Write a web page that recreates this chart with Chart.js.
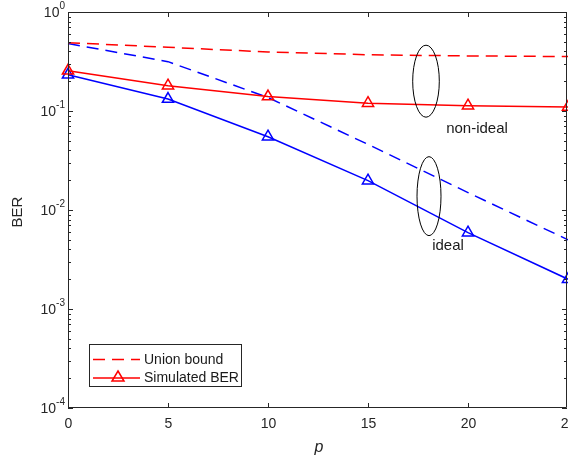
<!DOCTYPE html>
<html>
<head>
<meta charset="utf-8">
<script src="https://cdn.jsdelivr.net/npm/chart.js@4.4.1/dist/chart.umd.min.js"></script>
<style>
  html, body { margin: 0; padding: 0; background: #fff; }
  #wrap { width: 568px; height: 462px; }
</style>
</head>
<body>
<div id="wrap"><canvas id="ber"></canvas></div>
<script>
// values
const pValues = [0, 5, 10, 15, 20, 25];
const unionNonIdeal = [0.49, 0.44, 0.395, 0.37, 0.36, 0.355];
const simNonIdeal = [0.255, 0.18, 0.14, 0.12, 0.113, 0.11];
const unionIdeal = [0.48, 0.315, 0.137, 0.046, 0.015, 0.005];
const simIdeal = [0.232, 0.132, 0.055, 0.0198, 0.0059, 0.002];

const xTicks = [0, 5, 10, 15, 20, 25];
const yDecades = [0, -1, -2, -3, -4];

const FONT = '"Liberation Sans", Arial, sans-serif';
const AXIS = '#262626';

const toXY = (ys) => ys.map((y, i) => ({ x: pValues[i], y: y }));

// ellipse groupings + their labels (data coords, pixel radii)
const groups = [
  { cx: 17.9, cy: 0.2, rx: 13.3, ry: 36, label: 'non-ideal', lx: 20.45, ly: 0.066 },
  { cx: 18.05, cy: 0.0138, rx: 12, ry: 39.5, label: 'ideal', lx: 19.0, ly: 0.0043 },
];

const axesPlugin = {
  id: 'matlabAxes',
  afterDatasetsDraw(chart) {
    const { ctx, chartArea: a, scales } = chart;
    const xs = scales.x, ys = scales.y;
    ctx.save();

    // ellipses and labels
    ctx.strokeStyle = '#000';
    ctx.lineWidth = 1;
    ctx.fillStyle = '#1a1a1a';
    ctx.font = '15px ' + FONT;
    ctx.textAlign = 'center';
    ctx.textBaseline = 'middle';
    groups.forEach(g => {
      ctx.beginPath();
      ctx.ellipse(xs.getPixelForValue(g.cx), ys.getPixelForValue(g.cy), g.rx, g.ry, 0, 0, Math.PI * 2);
      ctx.stroke();
      ctx.fillText(g.label, xs.getPixelForValue(g.lx), ys.getPixelForValue(g.ly));
    });

    // box
    ctx.strokeStyle = AXIS;
    ctx.lineWidth = 1;
    ctx.beginPath();
    ctx.moveTo(a.left + 0.5, a.top + 0.5);
    ctx.lineTo(a.right - 1.5, a.top + 0.5);
    ctx.lineTo(a.right - 1.5, a.bottom - 0.5);
    ctx.lineTo(a.left + 0.5, a.bottom - 0.5);
    ctx.closePath();
    ctx.stroke();

    // x ticks (inward, bottom and top) + labels
    ctx.font = '14px ' + FONT;
    ctx.textAlign = 'center';
    ctx.textBaseline = 'middle';
    ctx.fillStyle = AXIS;
    xTicks.forEach(t => {
      const px = Math.round(xs.getPixelForValue(t)) + 0.5;
      ctx.beginPath();
      ctx.moveTo(px, a.bottom); ctx.lineTo(px, a.bottom - 5);
      ctx.moveTo(px, a.top); ctx.lineTo(px, a.top + 5);
      ctx.stroke();
      ctx.fillText(String(t), px, a.bottom + 16);
    });

    // y ticks, log minors
    yDecades.forEach(d => {
      const py = Math.round(ys.getPixelForValue(Math.pow(10, d))) + 0.5;
      ctx.beginPath();
      ctx.moveTo(a.left, py); ctx.lineTo(a.left + 5, py);
      ctx.moveTo(a.right - 1, py); ctx.lineTo(a.right - 6, py);
      ctx.stroke();
      if (d < 0) {
        for (let m = 2; m <= 9; m++) {
          const my = Math.round(ys.getPixelForValue(m * Math.pow(10, d))) + 0.5;
          ctx.beginPath();
          ctx.moveTo(a.left, my); ctx.lineTo(a.left + 3, my);
          ctx.moveTo(a.right - 1, my); ctx.lineTo(a.right - 4, my);
          ctx.stroke();
        }
      }
      // label 10^d
      const exp = String(d);
      ctx.font = '10px ' + FONT;
      const ew = ctx.measureText(exp).width;
      ctx.textAlign = 'left';
      ctx.textBaseline = 'middle';
      const right = a.left - 3;
      ctx.fillText(exp, right - ew, py - 6);
      ctx.font = '14px ' + FONT;
      ctx.textAlign = 'right';
      ctx.fillText('10', right - ew, py + 1);
    });

    // axis titles
    ctx.fillStyle = AXIS;
    ctx.font = '15px ' + FONT;
    ctx.textAlign = 'center';
    ctx.textBaseline = 'middle';
    ctx.save();
    ctx.translate(18, 212);
    ctx.rotate(-Math.PI / 2);
    ctx.fillText('BER', 0, 0);
    ctx.restore();
    ctx.font = 'italic 16px ' + FONT;
    ctx.fillText('p', 319, 448);

    // legend
    const lx = 89.5, ly = 344.5, lw = 152, lh = 42;
    ctx.fillStyle = '#fff';
    ctx.fillRect(lx, ly, lw, lh);
    ctx.strokeStyle = AXIS;
    ctx.lineWidth = 1;
    ctx.strokeRect(lx, ly, lw, lh);
    ctx.strokeStyle = '#ff0000';
    ctx.lineWidth = 1.5;
    ctx.setLineDash([12, 7]);
    ctx.beginPath(); ctx.moveTo(93, 359.5); ctx.lineTo(140, 359.5); ctx.stroke();
    ctx.setLineDash([]);
    ctx.beginPath(); ctx.moveTo(93, 378); ctx.lineTo(140, 378); ctx.stroke();
    ctx.beginPath();
    ctx.moveTo(118, 371); ctx.lineTo(124, 381); ctx.lineTo(112, 381); ctx.closePath();
    ctx.stroke();
    ctx.fillStyle = '#1a1a1a';
    ctx.font = '14px ' + FONT;
    ctx.textAlign = 'left';
    ctx.fillText('Union bound', 144, 360);
    ctx.fillText('Simulated BER', 144, 378);

    ctx.restore();
  }
};

const lineDs = (label, ys, color, dashed) => ({
  label: label,
  data: toXY(ys),
  borderColor: color,
  backgroundColor: 'rgba(0,0,0,0)',
  borderWidth: 1.5,
  borderDash: dashed ? [12, 7] : [],
  pointStyle: 'triangle',
  pointRadius: dashed ? 0 : 6.5,
  pointBorderWidth: 1.5,
  pointBorderColor: color,
  pointBackgroundColor: 'rgba(0,0,0,0)',
  tension: 0,
  clip: false,
});

new Chart(document.getElementById('ber'), {
  type: 'line',
  data: {
    datasets: [
      lineDs('Union bound (non-ideal)', unionNonIdeal, '#ff0000', true),
      lineDs('Simulated BER (non-ideal)', simNonIdeal, '#ff0000', false),
      lineDs('Union bound (ideal)', unionIdeal, '#0000ff', true),
      lineDs('Simulated BER (ideal)', simIdeal, '#0000ff', false),
    ]
  },
  options: {
    responsive: true,
    maintainAspectRatio: false,
    animation: false,
    layout: { autoPadding: false, padding: { top: 12, right: 0, left: 0, bottom: 0 } },
    plugins: { legend: { display: false }, tooltip: { enabled: false } },
    scales: {
      x: {
        type: 'linear', min: 0, max: 25,
        grid: { display: false, drawTicks: false },
        border: { display: false },
        ticks: { display: false },
        afterFit: (s) => { s.height = 54; },
      },
      y: {
        type: 'logarithmic', min: 1e-4, max: 1,
        grid: { display: false, drawTicks: false },
        border: { display: false },
        ticks: { display: false },
        afterFit: (s) => { s.width = 68; },
      }
    }
  },
  plugins: [axesPlugin]
});
</script>
</body>
</html>
